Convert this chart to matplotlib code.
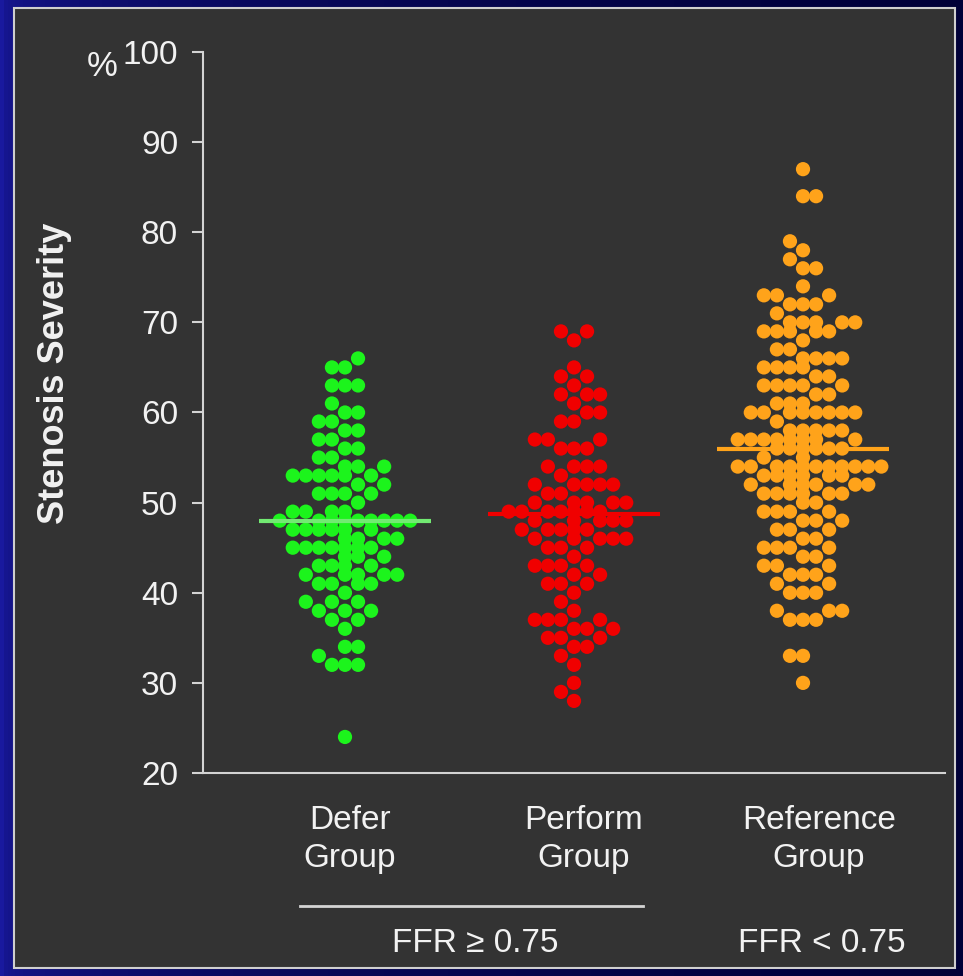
import numpy as np
import matplotlib
matplotlib.use("Agg")
import matplotlib.pyplot as plt
from matplotlib.patches import Rectangle
from matplotlib.lines import Line2D
import matplotlib.transforms as mtransforms

plt.rcParams["font.family"] = ["Liberation Sans", "DejaVu Sans"]

# Stenosis severity (%) and number of patients at that value
defer_pct = [66, 65, 63, 61, 60, 59, 58, 57, 56, 55, 54, 53, 52, 51, 50, 49, 48,
             47, 46, 45, 44, 43, 42, 41, 40, 39, 38, 37, 36, 34, 33, 32, 24]
defer_n = [1, 2, 3, 1, 2, 2, 2, 2, 2, 2, 3, 6, 2, 4, 1, 4, 9,
           6, 4, 7, 3, 4, 5, 4, 1, 3, 3, 2, 1, 2, 1, 3, 1]

perform_pct = [69, 68, 65, 64, 63, 62, 61, 60, 59, 57, 56, 54, 53, 52, 51, 50, 49,
               48, 47, 46, 45, 44, 43, 42, 41, 40, 39, 38, 37, 36, 35, 34, 33, 32,
               30, 29, 28]
perform_n = [2, 1, 1, 2, 1, 3, 1, 2, 2, 3, 3, 4, 1, 5, 2, 5, 7,
             5, 5, 5, 3, 1, 4, 2, 3, 1, 1, 1, 4, 3, 3, 2, 1, 1,
             1, 1, 1]

reference_pct = [87, 84, 79, 78, 77, 76, 74, 73, 72, 71, 70, 69, 68, 67, 66, 65, 64,
                 63, 62, 61, 60, 59, 58, 57, 56, 55, 54, 53, 52, 51, 50, 49, 48, 47,
                 46, 45, 44, 43, 42, 41, 40, 38, 37, 33, 30]
reference_n = [1, 2, 1, 1, 1, 2, 1, 3, 3, 1, 5, 5, 1, 2, 4, 4, 2,
               5, 2, 3, 8, 1, 5, 8, 6, 2, 11, 6, 6, 6, 2, 4, 3, 3,
               2, 4, 2, 3, 3, 2, 3, 3, 3, 2, 1]

group_labels = ["Defer\nGroup", "Perform\nGroup", "Reference\nGroup"]
group_means = [48, 48.7, 56]
dot_colors = ["#1cf41c", "#f00000", "#ffa31a"]
line_colors = ["#72ea72", "#f00000", "#ffa31a"]

text_col = "#f2f2f2"
axis_col = "#d4d4d4"


def swarm(pct, n, center, step=0.057, penalty=3.0):
    # grid beeswarm: each value row picks columns near the centre,
    # avoiding columns already used by the row just below
    xs, ys = [], []
    taken = {}
    for v, k in sorted(zip(pct, n)):
        near = taken.get(v - 1, set())
        side = 1 if v % 2 else -1
        cols = sorted(range(-12, 13),
                      key=lambda c: (abs(c) + (penalty if c in near else 0), side * c))
        use = cols[:k]
        taken[v] = set(use)
        xs += [center + c * step for c in use]
        ys += [v] * k
    return xs, ys


fig = plt.figure(figsize=(9.63, 9.76), dpi=100)

# navy slide background with the grey panel on top
bg = fig.add_axes([0, 0, 1, 1], zorder=-5)
grad = np.linspace(0, 1, 256)[None, :, None]
left = np.array([0.10, 0.10, 0.62])
right = np.array([0.0, 0.0, 0.22])
bg.imshow(left + (right - left) * grad ** 0.35, aspect="auto", extent=[0, 1, 0, 1])
bg.add_patch(Rectangle((14 / 963, 1 - 968 / 976), 941 / 963, 960 / 976,
                       transform=bg.transAxes, facecolor="#333333",
                       edgecolor="#cfcfcf", lw=1.5))
bg.set_xlim(0, 1)
bg.set_ylim(0, 1)
bg.axis("off")

ax = fig.add_axes([203 / 963, 1 - 773 / 976, 742 / 963, 721 / 976])
ax.set_facecolor("none")

data = [(defer_pct, defer_n), (perform_pct, perform_n), (reference_pct, reference_n)]
for i, (pct, n) in enumerate(data):
    c = i + 1
    xs, ys = swarm(pct, n, c)
    ax.scatter(xs, ys, s=105, color=dot_colors[i], edgecolors="none", zorder=3)
    ax.hlines(group_means[i], c - 0.376, c + 0.376, color=line_colors[i], lw=3, zorder=4)

ax.set_xlim(0.38, 3.62)
ax.set_ylim(20, 100)
ax.set_yticks(range(20, 101, 10))
ax.set_xticks([])
ax.tick_params(axis="y", length=8, width=1.5, color=axis_col, labelcolor=text_col,
               labelsize=24, pad=10)
for s in ["top", "right"]:
    ax.spines[s].set_visible(False)
for s in ["left", "bottom"]:
    ax.spines[s].set_color(axis_col)
    ax.spines[s].set_linewidth(1.5)

trans = mtransforms.blended_transform_factory(ax.transData, ax.transAxes)
label_shift = [0.02, 0.04, 0.07]
for i, lab in enumerate(group_labels):
    ax.text(i + 1 + label_shift[i], -0.045, lab, transform=trans, ha="center", va="top",
            fontsize=24, color=text_col, linespacing=1.28)

fig.text(102 / 963, 1 - 67 / 976, "%", fontsize=25, color=text_col, ha="center", va="center")
fig.text(55 / 963, 1 - 373 / 976, "Stenosis Severity", rotation=90, fontsize=26,
         fontweight="bold", color=text_col, ha="center", va="center")

fig.add_artist(Line2D([300 / 963, 643 / 963], [1 - 906 / 976] * 2,
                      transform=fig.transFigure, color=axis_col, lw=2))
fig.text(475 / 963, 1 - 943 / 976, "FFR \u2265 0.75", fontsize=24, color=text_col,
         ha="center", va="center")
fig.text(822 / 963, 1 - 943 / 976, "FFR < 0.75", fontsize=24, color=text_col,
         ha="center", va="center")

fig.savefig("out.png", dpi=100)
